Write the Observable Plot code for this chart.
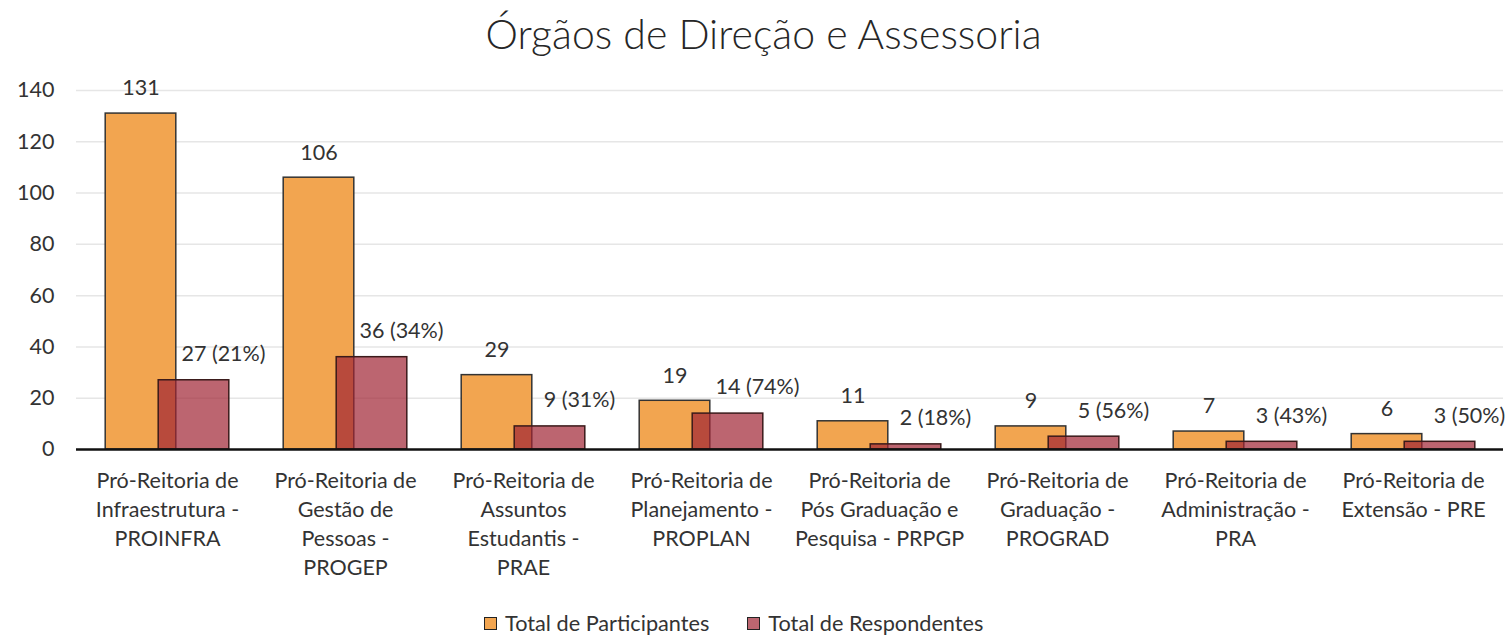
<!DOCTYPE html>
<html>
<head>
<meta charset="utf-8">
<script src="https://cdn.jsdelivr.net/npm/d3@7"></script>
<script src="https://cdn.jsdelivr.net/npm/@observablehq/plot@0.6"></script>
<style>
  body { margin: 0; background: #fff; font-family: Lato, "Open Sans", sans-serif; color: #333; }
  #wrap { width: 1507px; height: 637px; position: relative; overflow: hidden; }
  #title { height: 70px; line-height: 68px; text-align: center; font-size: 41px; font-weight: 300; color: #262626; padding-left: 20px; box-sizing: border-box; }
  #legend { height: 28px; padding-top: 9px; display: flex; align-items: center; padding-left: 484px; font-size: 21.7px; color: #333; }
  .item { display: flex; align-items: center; margin-right: 38px; }
  .sw { width: 13px; height: 13px; border: 1px solid #222; margin-right: 8px; box-sizing: border-box; }
</style>
</head>
<body>
<div id="wrap">
  <div id="title">Órgãos de Direção e Assessoria</div>
  <div id="chart"></div>
  <div id="legend"></div>
</div>
<script>
const categories = [
  "Pró-Reitoria de\nInfraestrutura -\nPROINFRA",
  "Pró-Reitoria de\nGestão de\nPessoas -\nPROGEP",
  "Pró-Reitoria de\nAssuntos\nEstudantis -\nPRAE",
  "Pró-Reitoria de\nPlanejamento -\nPROPLAN",
  "Pró-Reitoria de\nPós Graduação e\nPesquisa - PRPGP",
  "Pró-Reitoria de\nGraduação -\nPROGRAD",
  "Pró-Reitoria de\nAdministração -\nPRA",
  "Pró-Reitoria de\nExtensão - PRE"
];
const participantes = [131, 106, 29, 19, 11, 9, 7, 6];
const respondentes = [27, 36, 9, 14, 2, 5, 3, 3];
const percentuais = ["21%", "34%", "31%", "74%", "18%", "56%", "43%", "50%"];
const yTicks = [0, 20, 40, 60, 80, 100, 120, 140];
const seriesNames = ["Total de Participantes", "Total de Respondentes"];

const orange = "#F2A550";
const red = "#9F2433";

const partData = categories.map((c, i) => ({cat: c, value: participantes[i]}));
const respData = categories.map((c, i) => ({cat: c, value: respondentes[i], label: `${respondentes[i]} (${percentuais[i]})`}));

const font = "Lato, 'Open Sans', sans-serif";
const fs = 21.5;

const chart = Plot.plot({
  width: 1507,
  height: 530,
  marginTop: 20,
  marginBottom: 151,
  marginLeft: 76,
  marginRight: 4,
  style: {fontFamily: font, fontSize: fs + "px", color: "#333", background: "white"},
  x: {domain: categories, padding: 0, axis: null},
  y: {domain: [0, 140], ticks: yTicks},
  marks: [
    Plot.gridY(yTicks.filter(d => d > 0), {stroke: "#E6E6E6", strokeOpacity: 1, strokeWidth: 1.5}),
    Plot.axisY(yTicks, {tickSize: 0, tickPadding: 22, label: null, fontSize: fs, fill: "#333"}),
    Plot.barY(partData, {x: "cat", y: "value", fill: orange, stroke: "#333", strokeWidth: 1.5, insetLeft: 53.7, insetRight: 53.7, dx: -26.5}),
    Plot.barY(respData, {x: "cat", y: "value", fill: red, fillOpacity: 0.7, stroke: "#3a1a1a", strokeWidth: 1.5, insetLeft: 53.7, insetRight: 53.7, dx: 26.5}),
    Plot.ruleY([0], {stroke: "#111", strokeWidth: 2.5}),
    Plot.text(partData, {x: "cat", y: "value", text: d => String(d.value), dx: -26.5, dy: -25, fontSize: fs, fill: "#333"}),
    Plot.text(respData, {x: "cat", y: "value", text: "label", dx: 56, dy: -26, fontSize: fs, fill: "#333"}),
    Plot.text(categories, {x: d => d, text: d => d, frameAnchor: "bottom", lineAnchor: "top", dy: 18, lineHeight: 1.35, fontSize: fs, fill: "#333"})
  ]
});
document.getElementById("chart").appendChild(chart);

const legend = document.getElementById("legend");
[orange, red].forEach((col, i) => {
  const item = document.createElement("div");
  item.className = "item";
  const sw = document.createElement("div");
  sw.className = "sw";
  sw.style.background = i === 0 ? col : "#BC6670";
  item.appendChild(sw);
  const t = document.createElement("span");
  t.textContent = seriesNames[i];
  item.appendChild(t);
  legend.appendChild(item);
});
</script>
</body>
</html>
